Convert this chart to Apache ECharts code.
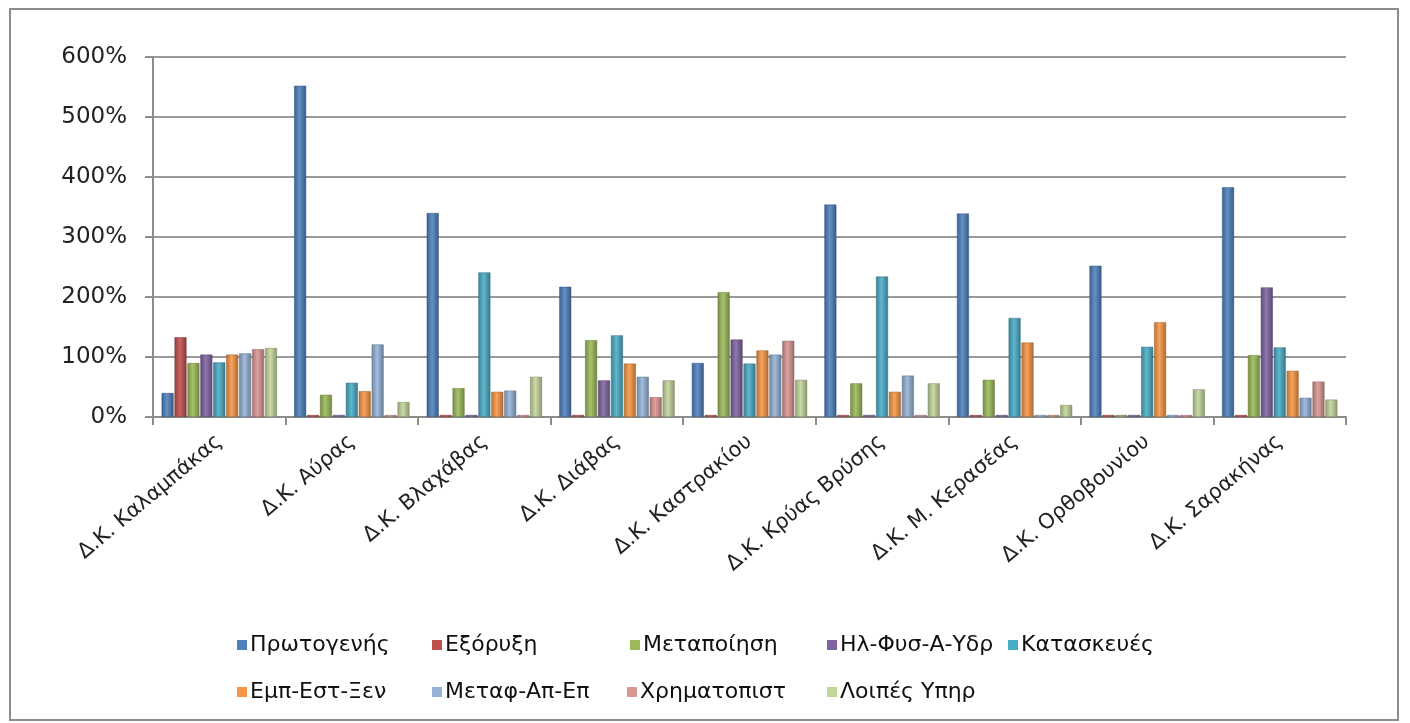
<!DOCTYPE html>
<html><head><meta charset="utf-8">
<script src="https://cdn.jsdelivr.net/npm/echarts@6/dist/echarts.min.js"></script>
<style>html,body{margin:0;padding:0;background:#fff}#c{width:1410px;height:723px}</style>
</head><body><div id="c"></div>
<script>
const categories = ['Δ.Κ. Καλαμπάκας','Δ.Κ. Αύρας','Δ.Κ. Βλαχάβας','Δ.Κ. Διάβας','Δ.Κ. Καστρακίου','Δ.Κ. Κρύας Βρύσης','Δ.Κ. Μ. Κερασέας','Δ.Κ. Ορθοβουνίου','Δ.Κ. Σαρακήνας'];
const seriesNames = ['Πρωτογενής','Εξόρυξη','Μεταποίηση','Ηλ-Φυσ-Α-Υδρ','Κατασκευές','Εμπ-Εστ-Ξεν','Μεταφ-Απ-Επ','Χρηματοπιστ','Λοιπές Υπηρ'];
const protogenis   = [40, 552, 340, 217, 90, 354, 339, 252, 383];
const exoryxi      = [133, 0, 0, 0, 0, 0, 0, 0, 0];
const metapoiisi   = [90, 37, 48, 128, 208, 56, 62, 0, 103];
const ilFys        = [104, 0, 0, 61, 129, 0, 0, 0, 216];
const kataskeves   = [91, 57, 241, 136, 89, 234, 165, 117, 116];
const empEst       = [104, 43, 42, 89, 111, 42, 124, 158, 77];
const metafAp      = [106, 121, 44, 67, 104, 69, 0, 0, 32];
const chrimatopist = [113, 0, 0, 33, 127, 0, 0, 0, 59];
const loipes       = [115, 25, 67, 61, 62, 56, 20, 46, 29];
const yTicks = [0, 100, 200, 300, 400, 500, 600];

const values = [protogenis, exoryxi, metapoiisi, ilFys, kataskeves, empEst, metafAp, chrimatopist, loipes];
const colors = ['#4F81BD','#C0504D','#9BBB59','#8064A2','#4BACC6','#F79646','#95B3D7','#D99694','#C3D69B'];

function shade(hex, f){
  const n=parseInt(hex.slice(1),16);let r=n>>16,g=(n>>8)&255,b=n&255;
  const m=v=>Math.max(0,Math.min(255,Math.round(f<0?v*(1+f):v+(255-v)*f)));
  return 'rgb('+m(r)+','+m(g)+','+m(b)+')';
}

const chart = echarts.init(document.getElementById('c'));
const series = seriesNames.map((name,i)=>({
  name, type:'bar', data: values[i],
  barGap:'8%', barCategoryGap:'13%', barMinHeight:2,
  itemStyle:{
    color:{type:'linear',x:0,y:0,x2:1,y2:0,colorStops:[
      {offset:0,color:shade(colors[i],-0.25)},
      {offset:0.45,color:shade(colors[i],0.12)},
      {offset:1,color:shade(colors[i],-0.3)}]},
    borderColor:shade(colors[i],-0.35), borderWidth:0.5
  }
}));
const legendPos = [[237,634],[432,634],[630,634],[827,634],[1008,634],[237,681],[432,681],[627,681],[827,681]];
const legends = seriesNames.map((name,i)=>({
  data:[{name, itemStyle:{color:colors[i], borderWidth:0}}],
  left:legendPos[i][0], top:legendPos[i][1], itemWidth:10, itemHeight:10, icon:'rect', padding:0,
  textStyle:{fontFamily:'DejaVu Sans', fontSize:22, color:'#111', padding:[0,0,0,-2]}
}));
chart.setOption({
  animation:false,
  color: colors,
  graphic:[{type:'rect',shape:{x:10,y:9,width:1388,height:711},style:{fill:'none',stroke:'#8c8c8c',lineWidth:2}}],
  legend: legends,
  grid:{left:153, right:64, top:57, bottom:306, containLabel:false},
  xAxis:{type:'category', data:categories,
    axisLine:{lineStyle:{color:'#8c8c8c',width:2}},
    axisTick:{show:true, length:8, lineStyle:{color:'#8c8c8c',width:2}},
    axisLabel:{interval:0, rotate:40, margin:22, fontFamily:'DejaVu Sans', fontSize:21, color:'#222'}
  },
  yAxis:{type:'value', min:0, max:600, interval:100,
    axisLine:{show:true, lineStyle:{color:'#8c8c8c',width:2}},
    axisTick:{show:true, length:8, lineStyle:{color:'#8c8c8c',width:2}},
    splitLine:{lineStyle:{color:'#999',width:2}},
    axisLabel:{margin:26, fontFamily:'DejaVu Sans', fontSize:23, color:'#222',
      formatter:v=> yTicks.includes(v) ? v+'%' : ''}
  },
  series
});
</script></body></html>
